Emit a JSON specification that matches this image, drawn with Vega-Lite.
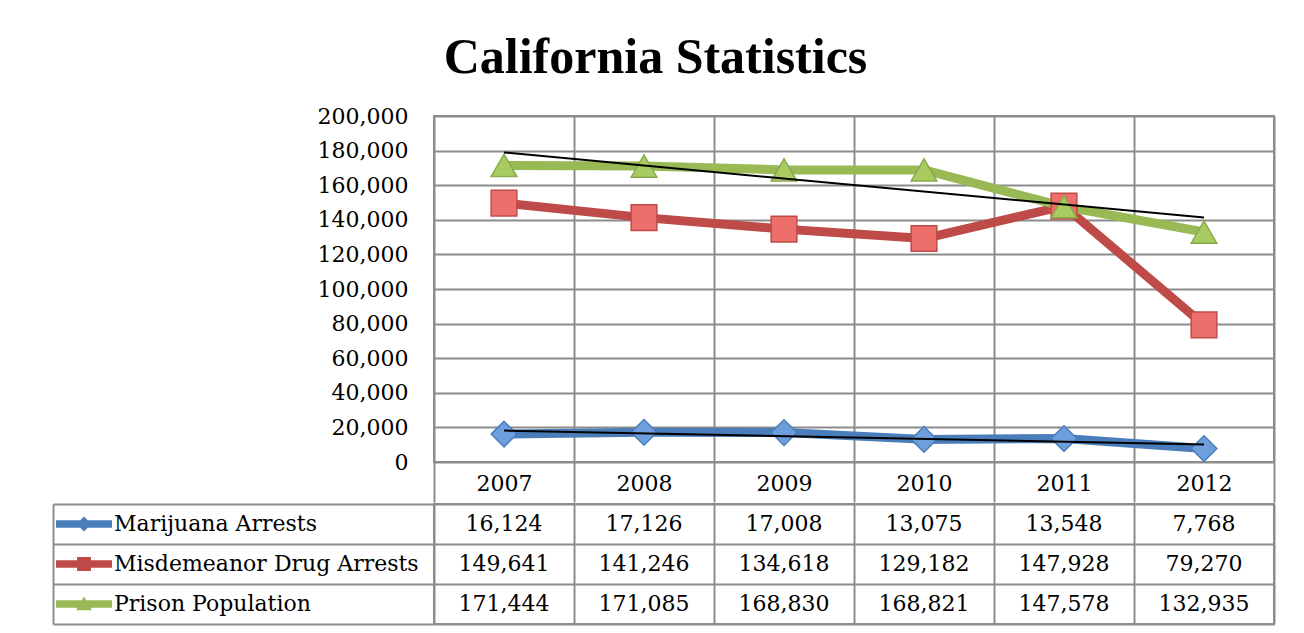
{
  "$schema": "https://vega.github.io/schema/vega-lite/v6.json",
  "padding": {"left": 51, "top": 33, "right": 0, "bottom": 0},
  "background": "white",
  "title": {"text": "California Statistics", "font": "Liberation Serif", "fontSize": 50, "fontWeight": "bold", "color": "black", "anchor": "middle", "offset": 21, "dx": -8},
  "datasets": {
    "d": [
      {"series": "Marijuana Arrests", "Year": 2007, "value": 16124},
      {"series": "Marijuana Arrests", "Year": 2008, "value": 17126},
      {"series": "Marijuana Arrests", "Year": 2009, "value": 17008},
      {"series": "Marijuana Arrests", "Year": 2010, "value": 13075},
      {"series": "Marijuana Arrests", "Year": 2011, "value": 13548},
      {"series": "Marijuana Arrests", "Year": 2012, "value": 7768},
      {"series": "Misdemeanor Drug Arrests", "Year": 2007, "value": 149641},
      {"series": "Misdemeanor Drug Arrests", "Year": 2008, "value": 141246},
      {"series": "Misdemeanor Drug Arrests", "Year": 2009, "value": 134618},
      {"series": "Misdemeanor Drug Arrests", "Year": 2010, "value": 129182},
      {"series": "Misdemeanor Drug Arrests", "Year": 2011, "value": 147928},
      {"series": "Misdemeanor Drug Arrests", "Year": 2012, "value": 79270},
      {"series": "Prison Population", "Year": 2007, "value": 171444},
      {"series": "Prison Population", "Year": 2008, "value": 171085},
      {"series": "Prison Population", "Year": 2009, "value": 168830},
      {"series": "Prison Population", "Year": 2010, "value": 168821},
      {"series": "Prison Population", "Year": 2011, "value": 147578},
      {"series": "Prison Population", "Year": 2012, "value": 132935}
    ]
  },
  "spacing": -4,
  "resolve": {
    "scale": {"x": "independent", "y": "independent", "color": "independent", "shape": "independent", "fill": "independent", "stroke": "independent"},
    "legend": {"color": "independent", "shape": "independent", "fill": "independent", "stroke": "independent"}
  },
  "vconcat": [
    {
      "width": 840,
      "height": 346,
      "data": {"name": "d"},
      "encoding": {
        "x": {
          "field": "Year", "type": "ordinal",
          "scale": {"type": "band", "paddingInner": 0, "paddingOuter": 0},
          "axis": {
            "title": null, "tickBand": "extent", "grid": true, "gridColor": "#8c8c8c", "gridWidth": 2,
            "ticks": true, "tickSize": 40, "tickColor": "#8c8c8c", "tickWidth": 2, "domain": false,
            "labelAngle": 0, "labelBaseline": "middle", "labelPadding": -19,
            "labelFont": "DejaVu Serif", "labelFontSize": 22, "labelColor": "black"
          }
        },
        "y": {
          "field": "value", "type": "quantitative",
          "scale": {"domain": [0, 200000]},
          "axis": {
            "title": null, "values": [0, 20000, 40000, 60000, 80000, 100000, 120000, 140000, 160000, 180000, 200000],
            "format": ",.0f", "grid": true, "gridColor": "#8c8c8c", "gridWidth": 2, "ticks": false, "domain": false,
            "labelPadding": 26, "labelFont": "DejaVu Serif", "labelFontSize": 22, "labelColor": "black"
          }
        }
      },
      "layer": [
        {
          "mark": {"type": "line", "strokeWidth": 9, "strokeJoin": "round"},
          "encoding": {
            "color": {"field": "series", "type": "nominal", "scale": {"range": ["#4a7ebb", "#be4b48", "#98b954"]}, "legend": null}
          }
        },
        {
          "mark": {"type": "point", "filled": true, "size": 660, "strokeWidth": 1.5, "opacity": 1},
          "encoding": {
            "shape": {"field": "series", "type": "nominal", "scale": {"range": ["diamond", "square", "triangle-up"]}, "legend": null},
            "fill": {"field": "series", "type": "nominal", "scale": {"range": ["#6e9fdc", "#ec6f6c", "#a8cc62"]}, "legend": null},
            "stroke": {"field": "series", "type": "nominal", "scale": {"range": ["#4a7ebb", "#be4b48", "#8aaa4c"]}, "legend": null}
          }
        },
        {
          "transform": [
            {"filter": {"field": "series", "oneOf": ["Marijuana Arrests", "Prison Population"]}},
            {"regression": "value", "on": "Year", "groupby": ["series"]}
          ],
          "mark": {"type": "line", "color": "black", "strokeWidth": 2},
          "encoding": {"detail": {"field": "series", "type": "nominal"}}
        }
      ]
    },
    {
      "width": 840,
      "height": 120,
      "data": {"name": "d"},
      "encoding": {
        "x": {
          "field": "Year", "type": "ordinal",
          "scale": {"type": "band", "paddingInner": 0, "paddingOuter": 0},
          "axis": {"title": null, "tickBand": "extent", "grid": true, "gridColor": "#8c8c8c", "gridWidth": 2, "labels": false, "ticks": false, "domain": false}
        },
        "y": {
          "field": "series", "type": "nominal",
          "sort": ["Marijuana Arrests", "Misdemeanor Drug Arrests", "Prison Population"],
          "scale": {"type": "band", "paddingInner": 0, "paddingOuter": 0},
          "axis": {
            "title": null, "tickBand": "extent", "grid": true, "gridColor": "#8c8c8c", "gridWidth": 2,
            "labels": false, "ticks": true, "tickSize": -381, "tickColor": "#8c8c8c", "tickWidth": 2,
            "domain": true, "domainColor": "#8c8c8c", "domainWidth": 2, "offset": 381
          }
        }
      },
      "layer": [
        {
          "mark": {"type": "point", "filled": true, "opacity": 0, "size": 3136},
          "encoding": {
            "shape": {
              "field": "series", "type": "nominal",
              "scale": {"range": [
                "M-1,-0.13H1V0.13H-1Z M0,-0.27L0.27,0L0,0.27L-0.27,0Z",
                "M-1,-0.13H1V0.13H-1Z M-0.25,-0.25H0.25V0.25H-0.25Z",
                "M-1,-0.13H1V0.13H-1Z M0,-0.27L0.28,0.22L-0.28,0.22Z"
              ]},
              "legend": {
                "orient": "none", "legendX": -378, "legendY": 0, "title": null, "clipHeight": 40, "rowPadding": 0,
                "symbolSize": 3136, "symbolOpacity": 1, "symbolStrokeWidth": 0, "padding": 0,
                "labelFont": "DejaVu Serif", "labelFontSize": 22, "labelColor": "black", "labelOffset": 2, "labelLimit": 400,
                "encode": {"symbols": {"update": {"opacity": {"value": 1}}}}
              }
            },
            "color": {
              "field": "series", "type": "nominal",
              "scale": {"range": ["#4a7ebb", "#be4b48", "#98b954"]},
              "legend": {
                "orient": "none", "legendX": -378, "legendY": 0, "title": null, "clipHeight": 40, "rowPadding": 0,
                "symbolSize": 3136, "symbolOpacity": 1, "symbolStrokeWidth": 0, "padding": 0,
                "labelFont": "DejaVu Serif", "labelFontSize": 22, "labelColor": "black", "labelOffset": 2, "labelLimit": 400,
                "encode": {"symbols": {"update": {"opacity": {"value": 1}}}}
              }
            }
          }
        },
        {
          "mark": {"type": "text", "font": "DejaVu Serif", "fontSize": 22, "color": "black"},
          "encoding": {"text": {"field": "value", "type": "quantitative", "format": ","}}
        }
      ]
    }
  ],
  "config": {
    "view": {"stroke": "#8c8c8c", "strokeWidth": 2}
  }
}
